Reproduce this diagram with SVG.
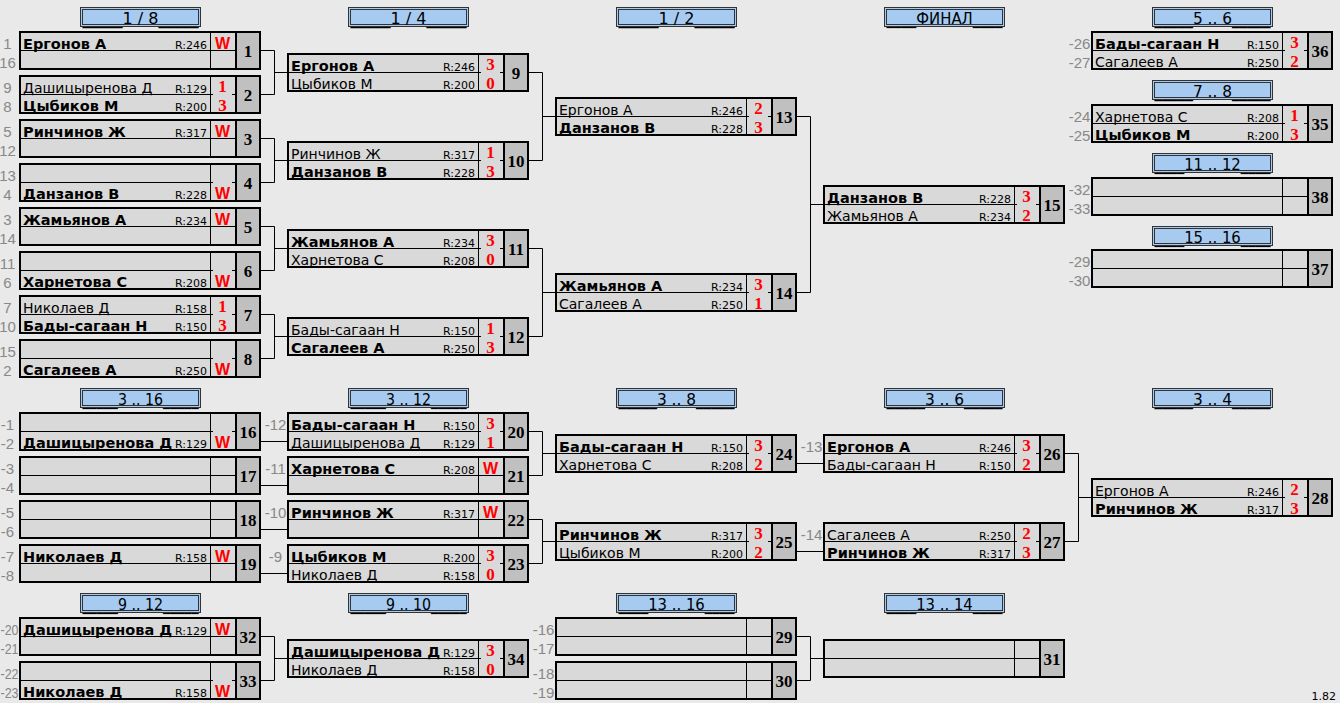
<svg xmlns="http://www.w3.org/2000/svg" xmlns:xlink="http://www.w3.org/1999/xlink" width="1340" height="703" viewBox="0 0 1340 703">
<style>
.ob{fill:#d9d9d9;stroke:#000;stroke-width:2}
.nc{fill:#c0c0c0;stroke:#000;stroke-width:2}
.ln{stroke:#000;stroke-width:1;fill:none}
.n{font-family:"DejaVu Sans",sans-serif;font-size:14px;fill:#000}
.b{font-weight:bold;font-size:14.5px}
.r{font-family:"DejaVu Sans",sans-serif;font-size:11px;text-anchor:end;fill:#000}
.s{font-family:"Liberation Serif",serif;font-size:17px;font-weight:bold;fill:#f00;text-anchor:middle}
.w{font-family:"Liberation Sans",sans-serif;font-size:16px;font-weight:bold;fill:#f00;text-anchor:middle}
.num{font-family:"Liberation Serif",serif;font-size:17px;font-weight:bold;text-anchor:middle;fill:#000}
.lb{font-family:"Liberation Sans",sans-serif;font-size:15px;fill:#888;text-anchor:middle}
.lbs{font-family:"Liberation Sans",sans-serif;font-size:14px;fill:#888}
.ht{font-family:"DejaVu Sans",sans-serif;font-size:15px;fill:#000}
.ver{font-family:"DejaVu Sans",sans-serif;font-size:11px;fill:#000;text-anchor:end}
</style>
<defs>
<g id="fr"><rect class="ob" x="1" y="1" width="240" height="37"/><path class="ln" d="M191.5 2V37"/><rect class="nc" x="217" y="1" width="24" height="37"/></g>
<g id="ff"><use href="#fr"/><path class="ln" d="M2 19.5H216"/></g>
<g id="fs"><use href="#fr"/><path class="ln" d="M2 19.5H194M213 19.5H216"/></g>
<g id="hdr"><rect x="0.5" y="0.5" width="120" height="19" fill="#a6caf0" stroke="#333"/><rect x="2.5" y="2.5" width="116" height="15" fill="none" stroke="#333"/></g>
</defs>
<rect width="1340" height="703" fill="#e9e9e9"/>

<g id="headers">
<g id="h18" transform="translate(80,7)"><use href="#hdr"/><text class="ht" x="2.5" y="16.5" textLength="116" lengthAdjust="spacingAndGlyphs">_____1 / 8_____</text></g>
<g id="h14" transform="translate(348,7)"><use href="#hdr"/><text class="ht" x="2.5" y="16.5" textLength="116" lengthAdjust="spacingAndGlyphs">_____1 / 4_____</text></g>
<g id="h12" transform="translate(616,7)"><use href="#hdr"/><text class="ht" x="2.5" y="16.5" textLength="116" lengthAdjust="spacingAndGlyphs">_____1 / 2_____</text></g>
<g id="hfin" transform="translate(884,7)"><use href="#hdr"/><text class="ht" x="2.5" y="16.5" textLength="116" lengthAdjust="spacingAndGlyphs">____ФИНАЛ____</text></g>
<g id="h56" transform="translate(1152,7)"><use href="#hdr"/><text class="ht" x="2.5" y="16.5" textLength="116" lengthAdjust="spacingAndGlyphs">_____5 .. 6_____</text></g>
<g id="h78" transform="translate(1152,80)"><use href="#hdr"/><text class="ht" x="2.5" y="16.5" textLength="116" lengthAdjust="spacingAndGlyphs">_____7 .. 8_____</text></g>
<g id="h1112" transform="translate(1152,153)"><use href="#hdr"/><text class="ht" x="2.5" y="16.5" textLength="116" lengthAdjust="spacingAndGlyphs">____11 .. 12____</text></g>
<g id="h1516" transform="translate(1152,226)"><use href="#hdr"/><text class="ht" x="2.5" y="16.5" textLength="116" lengthAdjust="spacingAndGlyphs">____15 .. 16____</text></g>
<g id="h316" transform="translate(80,388)"><use href="#hdr"/><text class="ht" x="2.5" y="16.5" textLength="116" lengthAdjust="spacingAndGlyphs">_____3 .. 16_____</text></g>
<g id="h312" transform="translate(348,388)"><use href="#hdr"/><text class="ht" x="2.5" y="16.5" textLength="116" lengthAdjust="spacingAndGlyphs">_____3 .. 12_____</text></g>
<g id="h38" transform="translate(616,388)"><use href="#hdr"/><text class="ht" x="2.5" y="16.5" textLength="116" lengthAdjust="spacingAndGlyphs">_____3 .. 8_____</text></g>
<g id="h36" transform="translate(884,388)"><use href="#hdr"/><text class="ht" x="2.5" y="16.5" textLength="116" lengthAdjust="spacingAndGlyphs">_____3 .. 6_____</text></g>
<g id="h34" transform="translate(1152,388)"><use href="#hdr"/><text class="ht" x="2.5" y="16.5" textLength="116" lengthAdjust="spacingAndGlyphs">_____3 .. 4_____</text></g>
<g id="h912" transform="translate(80,593)"><use href="#hdr"/><text class="ht" x="2.5" y="16.5" textLength="116" lengthAdjust="spacingAndGlyphs">_____9 .. 12_____</text></g>
<g id="h910" transform="translate(348,593)"><use href="#hdr"/><text class="ht" x="2.5" y="16.5" textLength="116" lengthAdjust="spacingAndGlyphs">_____9 .. 10_____</text></g>
<g id="h1316" transform="translate(616,593)"><use href="#hdr"/><text class="ht" x="2.5" y="16.5" textLength="116" lengthAdjust="spacingAndGlyphs">____13 .. 16____</text></g>
<g id="h1314" transform="translate(884,593)"><use href="#hdr"/><text class="ht" x="2.5" y="16.5" textLength="116" lengthAdjust="spacingAndGlyphs">____13 .. 14____</text></g>
</g>

<g id="connectors" class="ln">
<path d="M261 50.5H274.5V94.5H261M274.5 72.5H287"/>
<path d="M261 138.5H274.5V182.5H261M274.5 160.5H287"/>
<path d="M261 226.5H274.5V270.5H261M274.5 248.5H287"/>
<path d="M261 314.5H274.5V358.5H261M274.5 336.5H287"/>
<path d="M529 72.5H542.5V160.5H529M542.5 116.5H555"/>
<path d="M529 248.5H542.5V336.5H529M542.5 292.5H555"/>
<path d="M797 116.5H810.5V292.5H797M810.5 204.5H823"/>
<path d="M261 441.5H287M261 485.5H287M261 529.5H287M261 573.5H287"/>
<path d="M529 431.5H542.5V475.5H529M542.5 453.5H555"/>
<path d="M529 519.5H542.5V563.5H529M542.5 541.5H555"/>
<path d="M797 463.5H823M797 551.5H823"/>
<path d="M1065 453.5H1078.5V541.5H1065M1078.5 497.5H1091"/>
<path d="M261 636.5H274.5V680.5H261M274.5 658.5H287"/>
<path d="M797 636.5H810.5V680.5H797M810.5 658.5H823"/>
</g>

<g id="m1" transform="translate(19,31)"><use href="#ff"/><text class="lb" x="-11.5" y="17.5">1</text><text class="lb" x="-11.5" y="37">16</text>
<text class="n b" x="4" y="17.5">Ергонов А</text><text class="r" x="188" y="17.5">R:246</text><text class="w" x="203.5" y="17.5">W</text><text class="num" x="229" y="26">1</text></g>
<g id="m2" transform="translate(19,75)"><use href="#fs"/><text class="lb" x="-11.5" y="17.5">9</text><text class="lb" x="-11.5" y="37">8</text>
<text class="n" x="4" y="17.5">Дашицыренова Д</text><text class="r" x="188" y="17.5">R:129</text><text class="s" x="203.5" y="17">1</text>
<text class="n b" x="4" y="36">Цыбиков М</text><text class="r" x="188" y="36">R:200</text><text class="s" x="203.5" y="36">3</text><text class="num" x="229" y="26">2</text></g>
<g id="m3" transform="translate(19,119)"><use href="#ff"/><text class="lb" x="-11.5" y="17.5">5</text><text class="lb" x="-11.5" y="37">12</text>
<text class="n b" x="4" y="17.5">Ринчинов Ж</text><text class="r" x="188" y="17.5">R:317</text><text class="w" x="203.5" y="17.5">W</text><text class="num" x="229" y="26">3</text></g>
<g id="m4" transform="translate(19,163)"><use href="#fs"/><text class="lb" x="-11.5" y="17.5">13</text><text class="lb" x="-11.5" y="37">4</text>
<text class="n b" x="4" y="36">Данзанов В</text><text class="r" x="188" y="36">R:228</text><text class="w" x="203.5" y="35.5">W</text><text class="num" x="229" y="26">4</text></g>
<g id="m5" transform="translate(19,207)"><use href="#ff"/><text class="lb" x="-11.5" y="17.5">3</text><text class="lb" x="-11.5" y="37">14</text>
<text class="n b" x="4" y="17.5">Жамьянов А</text><text class="r" x="188" y="17.5">R:234</text><text class="w" x="203.5" y="17.5">W</text><text class="num" x="229" y="26">5</text></g>
<g id="m6" transform="translate(19,251)"><use href="#fs"/><text class="lb" x="-11.5" y="17.5">11</text><text class="lb" x="-11.5" y="37">6</text>
<text class="n b" x="4" y="36">Харнетова С</text><text class="r" x="188" y="36">R:208</text><text class="w" x="203.5" y="35.5">W</text><text class="num" x="229" y="26">6</text></g>
<g id="m7" transform="translate(19,295)"><use href="#fs"/><text class="lb" x="-11.5" y="17.5">7</text><text class="lb" x="-11.5" y="37">10</text>
<text class="n" x="4" y="17.5">Николаев Д</text><text class="r" x="188" y="17.5">R:158</text><text class="s" x="203.5" y="17">1</text>
<text class="n b" x="4" y="36">Бады-сагаан Н</text><text class="r" x="188" y="36">R:150</text><text class="s" x="203.5" y="36">3</text><text class="num" x="229" y="26">7</text></g>
<g id="m8" transform="translate(19,339)"><use href="#fs"/><text class="lb" x="-11.5" y="17.5">15</text><text class="lb" x="-11.5" y="37">2</text>
<text class="n b" x="4" y="36">Сагалеев А</text><text class="r" x="188" y="36">R:250</text><text class="w" x="203.5" y="35.5">W</text><text class="num" x="229" y="26">8</text></g>

<g id="m9" transform="translate(287,53)"><use href="#fs"/>
<text class="n b" x="4" y="17.5">Ергонов А</text><text class="r" x="188" y="17.5">R:246</text><text class="s" x="203.5" y="17">3</text>
<text class="n" x="4" y="36">Цыбиков М</text><text class="r" x="188" y="36">R:200</text><text class="s" x="203.5" y="36">0</text><text class="num" x="229" y="26">9</text></g>
<g id="m10" transform="translate(287,141)"><use href="#fs"/>
<text class="n" x="4" y="17.5">Ринчинов Ж</text><text class="r" x="188" y="17.5">R:317</text><text class="s" x="203.5" y="17">1</text>
<text class="n b" x="4" y="36">Данзанов В</text><text class="r" x="188" y="36">R:228</text><text class="s" x="203.5" y="36">3</text><text class="num" x="229" y="26">10</text></g>
<g id="m11" transform="translate(287,229)"><use href="#fs"/>
<text class="n b" x="4" y="17.5">Жамьянов А</text><text class="r" x="188" y="17.5">R:234</text><text class="s" x="203.5" y="17">3</text>
<text class="n" x="4" y="36">Харнетова С</text><text class="r" x="188" y="36">R:208</text><text class="s" x="203.5" y="36">0</text><text class="num" x="229" y="26">11</text></g>
<g id="m12" transform="translate(287,317)"><use href="#fs"/>
<text class="n" x="4" y="17.5">Бады-сагаан Н</text><text class="r" x="188" y="17.5">R:150</text><text class="s" x="203.5" y="17">1</text>
<text class="n b" x="4" y="36">Сагалеев А</text><text class="r" x="188" y="36">R:250</text><text class="s" x="203.5" y="36">3</text><text class="num" x="229" y="26">12</text></g>

<g id="m13" transform="translate(555,97)"><use href="#fs"/>
<text class="n" x="4" y="17.5">Ергонов А</text><text class="r" x="188" y="17.5">R:246</text><text class="s" x="203.5" y="17">2</text>
<text class="n b" x="4" y="36">Данзанов В</text><text class="r" x="188" y="36">R:228</text><text class="s" x="203.5" y="36">3</text><text class="num" x="229" y="26">13</text></g>
<g id="m14" transform="translate(555,273)"><use href="#fs"/>
<text class="n b" x="4" y="17.5">Жамьянов А</text><text class="r" x="188" y="17.5">R:234</text><text class="s" x="203.5" y="17">3</text>
<text class="n" x="4" y="36">Сагалеев А</text><text class="r" x="188" y="36">R:250</text><text class="s" x="203.5" y="36">1</text><text class="num" x="229" y="26">14</text></g>

<g id="m15" transform="translate(823,185)"><use href="#fs"/>
<text class="n b" x="4" y="17.5">Данзанов В</text><text class="r" x="188" y="17.5">R:228</text><text class="s" x="203.5" y="17">3</text>
<text class="n" x="4" y="36">Жамьянов А</text><text class="r" x="188" y="36">R:234</text><text class="s" x="203.5" y="36">2</text><text class="num" x="229" y="26">15</text></g>

<g id="m36" transform="translate(1091,31)"><use href="#fs"/><text class="lb" x="-11.5" y="17.5">-26</text><text class="lb" x="-11.5" y="37">-27</text>
<text class="n b" x="4" y="17.5">Бады-сагаан Н</text><text class="r" x="188" y="17.5">R:150</text><text class="s" x="203.5" y="17">3</text>
<text class="n" x="4" y="36">Сагалеев А</text><text class="r" x="188" y="36">R:250</text><text class="s" x="203.5" y="36">2</text><text class="num" x="229" y="26">36</text></g>
<g id="m35" transform="translate(1091,104)"><use href="#fs"/><text class="lb" x="-11.5" y="17.5">-24</text><text class="lb" x="-11.5" y="37">-25</text>
<text class="n" x="4" y="17.5">Харнетова С</text><text class="r" x="188" y="17.5">R:208</text><text class="s" x="203.5" y="17">1</text>
<text class="n b" x="4" y="36">Цыбиков М</text><text class="r" x="188" y="36">R:200</text><text class="s" x="203.5" y="36">3</text><text class="num" x="229" y="26">35</text></g>
<g id="m38" transform="translate(1091,177)"><use href="#ff"/><text class="lb" x="-11.5" y="17.5">-32</text><text class="lb" x="-11.5" y="37">-33</text><text class="num" x="229" y="26">38</text></g>
<g id="m37" transform="translate(1091,249)"><use href="#ff"/><text class="lb" x="-11.5" y="17.5">-29</text><text class="lb" x="-11.5" y="37">-30</text><text class="num" x="229" y="26">37</text></g>

<g id="m16" transform="translate(19,412)"><use href="#fs"/><text class="lb" x="-11.5" y="17.5">-1</text><text class="lb" x="-11.5" y="37">-2</text>
<text class="n b" x="4" y="36">Дашицыренова Д</text><text class="r" x="188" y="36">R:129</text><text class="w" x="203.5" y="35.5">W</text><text class="num" x="229" y="26">16</text></g>
<g id="m17" transform="translate(19,456)"><use href="#ff"/><text class="lb" x="-11.5" y="17.5">-3</text><text class="lb" x="-11.5" y="37">-4</text><text class="num" x="229" y="26">17</text></g>
<g id="m18" transform="translate(19,500)"><use href="#ff"/><text class="lb" x="-11.5" y="17.5">-5</text><text class="lb" x="-11.5" y="37">-6</text><text class="num" x="229" y="26">18</text></g>
<g id="m19" transform="translate(19,544)"><use href="#ff"/><text class="lb" x="-11.5" y="17.5">-7</text><text class="lb" x="-11.5" y="37">-8</text>
<text class="n b" x="4" y="17.5">Николаев Д</text><text class="r" x="188" y="17.5">R:158</text><text class="w" x="203.5" y="17.5">W</text><text class="num" x="229" y="26">19</text></g>

<g id="m20" transform="translate(287,412)"><use href="#fs"/><text class="lb" x="-11.5" y="17.5">-12</text>
<text class="n b" x="4" y="17.5">Бады-сагаан Н</text><text class="r" x="188" y="17.5">R:150</text><text class="s" x="203.5" y="17">3</text>
<text class="n" x="4" y="36">Дашицыренова Д</text><text class="r" x="188" y="36">R:129</text><text class="s" x="203.5" y="36">1</text><text class="num" x="229" y="26">20</text></g>
<g id="m21" transform="translate(287,456)"><use href="#ff"/><text class="lb" x="-11.5" y="17.5">-11</text>
<text class="n b" x="4" y="17.5">Харнетова С</text><text class="r" x="188" y="17.5">R:208</text><text class="w" x="203.5" y="17.5">W</text><text class="num" x="229" y="26">21</text></g>
<g id="m22" transform="translate(287,500)"><use href="#ff"/><text class="lb" x="-11.5" y="17.5">-10</text>
<text class="n b" x="4" y="17.5">Ринчинов Ж</text><text class="r" x="188" y="17.5">R:317</text><text class="w" x="203.5" y="17.5">W</text><text class="num" x="229" y="26">22</text></g>
<g id="m23" transform="translate(287,544)"><use href="#fs"/><text class="lb" x="-11.5" y="17.5">-9</text>
<text class="n b" x="4" y="17.5">Цыбиков М</text><text class="r" x="188" y="17.5">R:200</text><text class="s" x="203.5" y="17">3</text>
<text class="n" x="4" y="36">Николаев Д</text><text class="r" x="188" y="36">R:158</text><text class="s" x="203.5" y="36">0</text><text class="num" x="229" y="26">23</text></g>

<g id="m24" transform="translate(555,434)"><use href="#fs"/>
<text class="n b" x="4" y="17.5">Бады-сагаан Н</text><text class="r" x="188" y="17.5">R:150</text><text class="s" x="203.5" y="17">3</text>
<text class="n" x="4" y="36">Харнетова С</text><text class="r" x="188" y="36">R:208</text><text class="s" x="203.5" y="36">2</text><text class="num" x="229" y="26">24</text></g>
<g id="m25" transform="translate(555,522)"><use href="#fs"/>
<text class="n b" x="4" y="17.5">Ринчинов Ж</text><text class="r" x="188" y="17.5">R:317</text><text class="s" x="203.5" y="17">3</text>
<text class="n" x="4" y="36">Цыбиков М</text><text class="r" x="188" y="36">R:200</text><text class="s" x="203.5" y="36">2</text><text class="num" x="229" y="26">25</text></g>

<g id="m26" transform="translate(823,434)"><use href="#fs"/><text class="lb" x="-11.5" y="17.5">-13</text>
<text class="n b" x="4" y="17.5">Ергонов А</text><text class="r" x="188" y="17.5">R:246</text><text class="s" x="203.5" y="17">3</text>
<text class="n" x="4" y="36">Бады-сагаан Н</text><text class="r" x="188" y="36">R:150</text><text class="s" x="203.5" y="36">2</text><text class="num" x="229" y="26">26</text></g>
<g id="m27" transform="translate(823,522)"><use href="#fs"/><text class="lb" x="-11.5" y="17.5">-14</text>
<text class="n" x="4" y="17.5">Сагалеев А</text><text class="r" x="188" y="17.5">R:250</text><text class="s" x="203.5" y="17">2</text>
<text class="n b" x="4" y="36">Ринчинов Ж</text><text class="r" x="188" y="36">R:317</text><text class="s" x="203.5" y="36">3</text><text class="num" x="229" y="26">27</text></g>

<g id="m28" transform="translate(1091,478)"><use href="#fs"/>
<text class="n" x="4" y="17.5">Ергонов А</text><text class="r" x="188" y="17.5">R:246</text><text class="s" x="203.5" y="17">2</text>
<text class="n b" x="4" y="36">Ринчинов Ж</text><text class="r" x="188" y="36">R:317</text><text class="s" x="203.5" y="36">3</text><text class="num" x="229" y="26">28</text></g>

<g id="m32" transform="translate(19,617)"><use href="#ff"/><text class="lbs" x="-18.5" y="17.5" textLength="18" lengthAdjust="spacingAndGlyphs">-20</text><text class="lbs" x="-18.5" y="37" textLength="18" lengthAdjust="spacingAndGlyphs">-21</text>
<text class="n b" x="4" y="17.5">Дашицыренова Д</text><text class="r" x="188" y="17.5">R:129</text><text class="w" x="203.5" y="17.5">W</text><text class="num" x="229" y="26">32</text></g>
<g id="m33" transform="translate(19,661)"><use href="#fs"/><text class="lbs" x="-18.5" y="17.5" textLength="18" lengthAdjust="spacingAndGlyphs">-22</text><text class="lbs" x="-18.5" y="37" textLength="18" lengthAdjust="spacingAndGlyphs">-23</text>
<text class="n b" x="4" y="36">Николаев Д</text><text class="r" x="188" y="36">R:158</text><text class="w" x="203.5" y="35.5">W</text><text class="num" x="229" y="26">33</text></g>
<g id="m34" transform="translate(287,639)"><use href="#fs"/>
<text class="n b" x="4" y="17.5">Дашицыренова Д</text><text class="r" x="188" y="17.5">R:129</text><text class="s" x="203.5" y="17">3</text>
<text class="n" x="4" y="36">Николаев Д</text><text class="r" x="188" y="36">R:158</text><text class="s" x="203.5" y="36">0</text><text class="num" x="229" y="26">34</text></g>

<g id="m29" transform="translate(555,617)"><use href="#ff"/><text class="lb" x="-11.5" y="17.5">-16</text><text class="lb" x="-11.5" y="37">-17</text><text class="num" x="229" y="26">29</text></g>
<g id="m30" transform="translate(555,661)"><use href="#ff"/><text class="lb" x="-11.5" y="17.5">-18</text><text class="lb" x="-11.5" y="37">-19</text><text class="num" x="229" y="26">30</text></g>
<g id="m31" transform="translate(823,639)"><use href="#ff"/><text class="num" x="229" y="26">31</text></g>

<text class="ver" x="1336" y="700">1.82</text>
</svg>
